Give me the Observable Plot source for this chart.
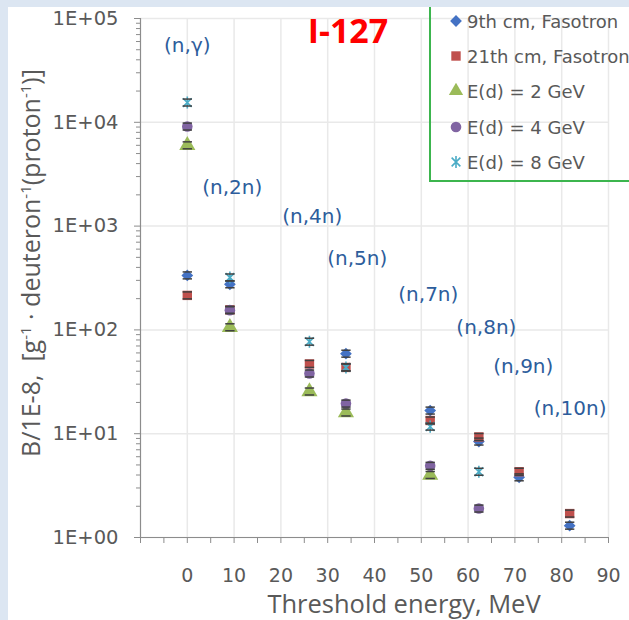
<!DOCTYPE html>
<html>
<head>
<meta charset="utf-8">
<script src="https://cdn.jsdelivr.net/npm/d3@7"></script>
<script src="https://cdn.jsdelivr.net/npm/@observablehq/plot@0.6"></script>
<style>
  html, body { margin: 0; padding: 0; background: #ffffff; }
  #wrap { position: relative; width: 629px; height: 620px; overflow: hidden; background: #ffffff; }
  #wrap > svg { position: absolute; left: 0; top: 0; }
  .strip { position: absolute; background: #dce6f2; }
  #legendBox { position: absolute; left: 429px; top: -6px; width: 240px; height: 188px;
               border: 2px solid #3cb54e; box-sizing: border-box; }
  .lrow { position: absolute; left: 448px; height: 22px; display: flex; align-items: center;
          font-family: "DejaVu Sans", sans-serif; font-size: 18px; color: #595959; white-space: nowrap; }
  .lrow svg { display: block; margin-right: 3px; flex: none; }
</style>
</head>
<body>
<div id="wrap"></div>
<script>
// ---------- data ----------
const seriesNames = ["9th cm, Fasotron", "21th cm, Fasotron", "E(d) = 2 GeV", "E(d) = 4 GeV", "E(d) = 8 GeV"];
const seriesColors = ["#4472c4", "#c0504d", "#9bbb59", "#8064a2", "#4bacc6"];

const energy9th = [0, 9.1, 33.9, 51.9, 62.3, 70.9, 81.7];
const yield9th  = [335, 275, 59, 16.7, 8.4, 3.8, 1.3];

const energy21th = [0, 9.1, 26.1, 33.9, 51.9, 62.3, 70.9, 81.7];
const yield21th  = [215, 156, 47, 43.5, 13.4, 9.3, 4.3, 1.7];

const energy2GeV = [0, 9.1, 26.1, 33.9, 51.9];
const yield2GeV  = [6000, 106, 25.5, 16, 4.0];

const energy4GeV = [0, 9.1, 26.1, 33.9, 51.9, 62.3];
const yield4GeV  = [9100, 155, 38, 19.5, 4.9, 1.9];

const energy8GeV = [0, 9.1, 26.1, 33.9, 51.9, 62.3];
const yield8GeV  = [15500, 320, 77, 43.5, 11.7, 4.3];

const relError = 0.08;          // estimated size of the error bars

const reactions   = ["(n,γ)", "(n,2n)", "(n,4n)", "(n,5n)", "(n,7n)", "(n,8n)", "(n,9n)", "(n,10n)"];
const reactionX   = [0, 9.6, 26.7, 36.3, 51.5, 63.9, 71.8, 81.8];
const reactionY   = [55000, 2350, 1240, 485, 220, 105, 44.5, 17.5];

const xTickLabels = [0, 10, 20, 30, 40, 50, 60, 70, 80, 90];
const xTickMarks  = [-10, -5, 0, 5, 10, 15, 20, 25, 30, 35, 40, 45, 50, 55, 60, 65, 70, 75, 80, 85, 90];
const yDecades    = [1, 10, 100, 1000, 10000, 100000];
const yMinorSteps = [2, 3, 4, 5, 6, 7, 8, 9];

const titleText  = "I-127";
const xTitleText = "Threshold energy, MeV";

// ---------- build ----------
const seriesData = [
  {e: energy9th,  v: yield9th},
  {e: energy21th, v: yield21th},
  {e: energy2GeV, v: yield2GeV},
  {e: energy4GeV, v: yield4GeV},
  {e: energy8GeV, v: yield8GeV}
].map((s, k) => s.e.map((e, i) => ({series: seriesNames[k], e, v: s.v[i]})));
const allRows = seriesData.flat();

const yMinor = yDecades.slice(0, -1).flatMap(d => yMinorSteps.map(m => d * m));

// Excel-like star marker: vertical bar plus an X
const starSymbol = {
  draw(context, size) {
    const r = Math.sqrt(size) * 0.62;
    const q = r * 0.72;
    context.moveTo(0, -r); context.lineTo(0, r);
    context.moveTo(-q, -q); context.lineTo(q, q);
    context.moveTo(-q, q); context.lineTo(q, -q);
  }
};
const symbols = ["diamond2", "square", "triangle", "circle", starSymbol];

const axisGray = "#8c8c8c";
const textGray = "#595959";
const gridGray = "#e9e9e9";

const dotMarks = seriesData.map((rows, k) =>
  k === 4
    ? Plot.dot(rows, {x: "e", y: "v", symbol: symbols[k], stroke: seriesColors[k], strokeWidth: 1.6, r: 5.5})
    : Plot.dot(rows, {x: "e", y: "v", symbol: symbols[k], fill: seriesColors[k], stroke: "none",
                      r: k === 2 ? 6 : 5.3})
);

const chart = Plot.plot({
  width: 629, height: 620,
  marginLeft: 140, marginRight: 21, marginTop: 18, marginBottom: 83,
  x: {domain: [-10, 90], label: null},
  y: {type: "log", domain: [1, 100000], label: null},
  style: {fontFamily: "DejaVu Sans", background: "transparent", color: textGray, overflow: "visible"},
  marks: [
    Plot.gridX(xTickLabels, {stroke: gridGray, strokeOpacity: 1, strokeWidth: 1.5}),
    Plot.gridY(yDecades, {stroke: gridGray, strokeOpacity: 1, strokeWidth: 1.5}),
    Plot.ruleX([-10], {stroke: axisGray, strokeWidth: 1.2}),
    Plot.ruleY([1], {stroke: axisGray, strokeWidth: 1.2}),
    Plot.axisY(yMinor, {tickSize: 4, tickFormat: () => "", stroke: axisGray, label: null}),
    Plot.axisY(yDecades, {tickSize: 6, tickFormat: () => "", stroke: axisGray, label: null}),
    Plot.axisY(yDecades, {tickSize: 0, tickPadding: 22, fontSize: 19.5, fill: textGray, label: null,
      tickFormat: d => "1E+" + String(Math.round(Math.log10(d))).padStart(2, "0")}),
    Plot.axisX(xTickMarks, {tickSize: 6, tickFormat: () => "", stroke: axisGray, label: null}),
    Plot.axisX(xTickLabels, {tickSize: 0, tickPadding: 31, fontSize: 19, fill: textGray, label: null}),
    ...dotMarks,
    Plot.link(allRows, {x1: d => d.e - 1, x2: d => d.e + 1,
                        y1: d => d.v * (1 + relError), y2: d => d.v * (1 + relError),
                        stroke: "#404040", strokeWidth: 1.5}),
    Plot.link(allRows, {x1: d => d.e - 1, x2: d => d.e + 1,
                        y1: d => d.v / (1 + relError), y2: d => d.v / (1 + relError),
                        stroke: "#404040", strokeWidth: 1.5}),
    Plot.text(reactions.map((t, i) => ({t, x: reactionX[i], y: reactionY[i]})),
      {x: "x", y: "y", text: "t", fill: "#2d5d9c", fontSize: 20, fontFamily: "DejaVu Sans"})
  ]
});

const wrap = document.getElementById("wrap");
wrap.appendChild(chart);

const svg = d3.select(chart);
// y-axis title with superscripts
const yt = svg.append("text")
  .attr("transform", "translate(40,263) rotate(-90)")
  .attr("text-anchor", "middle")
  .attr("font-family", "Open Sans")
  .attr("font-size", 25)
  .attr("fill", textGray);
const ytParts = [["B/1E-8,\u00a0\u00a0[g", 0], ["-1", -1], ["\u00a0·\u00a0deuteron", 1], ["-1", -1], ["(proton", 1], ["-1", -1], [")]", 1]];
ytParts.forEach(([t, s]) => {
  const sp = yt.append("tspan").text(t);
  if (s === -1) sp.attr("dy", -9).attr("font-size", 15);
  else if (s === 1) sp.attr("dy", 9);
});
// x-axis title
svg.append("text")
  .attr("x", 404).attr("y", 613)
  .attr("text-anchor", "middle")
  .attr("font-family", "Open Sans")
  .attr("font-size", 25.5)
  .attr("fill", textGray)
  .text(xTitleText);
// chart title
svg.append("text")
  .attr("x", 348).attr("y", 43)
  .attr("text-anchor", "middle")
  .attr("font-family", "Open Sans")
  .attr("font-weight", "bold")
  .attr("font-size", 34)
  .attr("fill", "#ff0000")
  .text(titleText);

// legend
const lb = document.createElement("div");
lb.id = "legendBox";
wrap.appendChild(lb);
const rowCenters = [21, 56, 91, 127, 162];
const typeMap = [d3.symbolDiamond2, d3.symbolSquare, d3.symbolTriangle, d3.symbolCircle, starSymbol];
seriesNames.forEach((name, k) => {
  const row = document.createElement("div");
  row.className = "lrow";
  row.style.top = (rowCenters[k] - 11) + "px";
  const ms = d3.create("svg").attr("width", 16).attr("height", 16);
  const size = k === 4 ? Math.PI * 5.5 * 5.5 : Math.PI * 5.3 * 5.3;
  const p = ms.append("path").attr("transform", "translate(8,8)")
    .attr("d", d3.symbol(typeMap[k], size)());
  if (k === 4) p.attr("fill", "none").attr("stroke", seriesColors[k]).attr("stroke-width", 1.6);
  else p.attr("fill", seriesColors[k]);
  row.appendChild(ms.node());
  const sp = document.createElement("span");
  sp.textContent = name;
  row.appendChild(sp);
  wrap.appendChild(row);
});

// outer light-blue frame strips
const s1 = document.createElement("div"); s1.className = "strip";
s1.style.cssText = "left:0;top:0;width:8px;height:620px;";
const s2 = document.createElement("div"); s2.className = "strip";
s2.style.cssText = "left:0;top:0;width:629px;height:7px;";
wrap.appendChild(s1); wrap.appendChild(s2);
</script>
</body>
</html>
